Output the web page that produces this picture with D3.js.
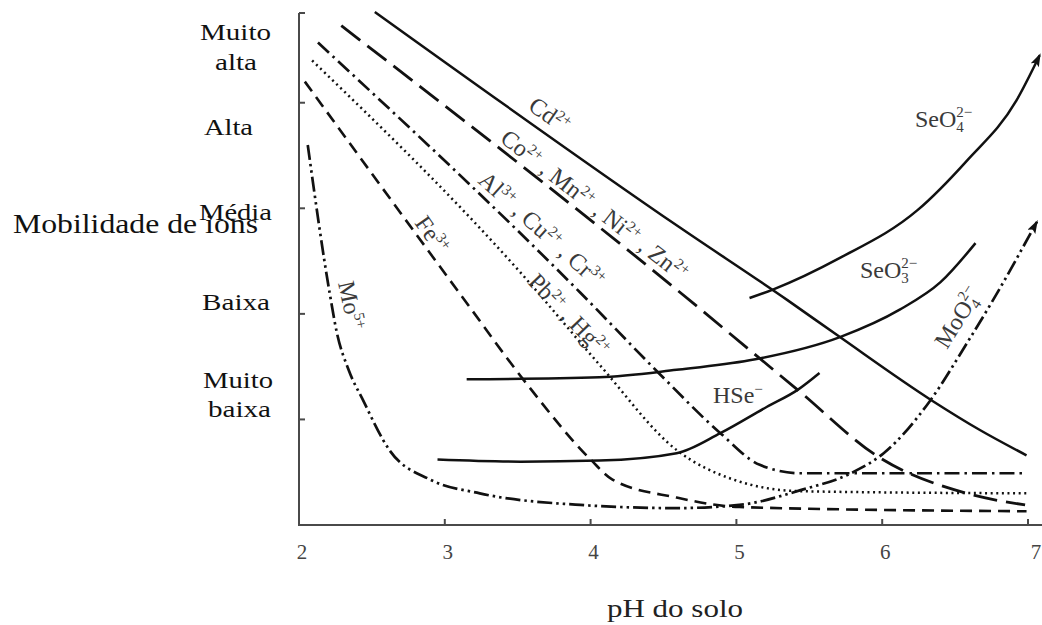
<!DOCTYPE html>
<html>
<head>
<meta charset="utf-8">
<script src="https://cdn.jsdelivr.net/npm/d3@7"></script>
<style>
  html, body { margin: 0; padding: 0; background: #fff; }
  svg { display: block; }
  text { font-family: "Liberation Serif", "Times New Roman", serif; }
</style>
</head>
<body>
<svg id="chart" width="1042" height="625"></svg>
<script>
// Axis values
const phTicks = [2, 3, 4, 5, 6, 7];
const mobilityTicks = [1, 2, 3, 4];
const mobilityLevels = ["Muito", "alta", "Alta", "Média", "Baixa", "Muito", "baixa"];

// Curves as [pH, relative mobility] pairs
const cdCurve   = [[2.52, 4.86], [4.61, 2.82], [5.35, 2.13], [5.71, 1.78], [6.34, 1.18], [6.67, 0.90], [6.99, 0.66]];
const coCurve   = [[2.29, 4.73], [4.59, 2.23], [5.42, 1.28], [5.98, 0.64], [6.58, 0.30], [6.98, 0.19]];
const alCurve   = [[2.13, 4.57], [3.93, 2.20], [4.46, 1.45], [4.89, 0.87], [5.16, 0.57], [5.44, 0.49], [6.99, 0.49]];
const pbCurve   = [[2.09, 4.40], [3.52, 2.39], [4.06, 1.52], [4.59, 0.71], [4.98, 0.43], [5.44, 0.32], [6.99, 0.30]];
const feCurve   = [[2.04, 4.20], [3.12, 2.16], [3.56, 1.34], [4.00, 0.62], [4.15, 0.43], [4.59, 0.26], [5.02, 0.17], [6.99, 0.13]];
const moCurve   = [[2.06, 3.60], [2.21, 2.20], [2.26, 1.82], [2.34, 1.47], [2.44, 1.18], [2.62, 0.71], [2.90, 0.43],
                   [3.24, 0.30], [3.93, 0.19], [4.59, 0.16], [5.02, 0.19], [5.44, 0.33], [5.80, 0.50], [6.01, 0.68],
                   [6.33, 1.18], [6.58, 1.72], [6.76, 2.13], [7.06, 2.87]];
const seo4Curve = [[5.09, 2.15], [5.25, 2.23], [5.71, 2.53], [6.24, 2.98], [6.58, 3.45], [6.92, 4.02], [7.08, 4.45]];
const seo3Curve = [[3.15, 1.38], [4.06, 1.40], [4.59, 1.47], [5.09, 1.56], [5.71, 1.78], [6.12, 2.04], [6.40, 2.30], [6.64, 2.67]];
const hseCurve  = [[2.95, 0.62], [3.52, 0.60], [4.06, 0.61], [4.59, 0.68], [4.89, 0.87], [5.21, 1.12], [5.42, 1.28], [5.57, 1.44]];

const svg = d3.select("#chart");
const x = d3.scaleLinear().domain([2, 7]).range([299, 1028]);
const y = d3.scaleLinear().domain([0, 4.85]).range([525, 13]);

const ink = "#111";

// Arrowhead for curves that keep rising beyond the plot
const defs = svg.append("defs");
defs.append("marker")
  .attr("id", "arrow")
  .attr("viewBox", "0 0 12 8")
  .attr("refX", 10).attr("refY", 4)
  .attr("markerWidth", 15).attr("markerHeight", 9)
  .attr("markerUnits", "userSpaceOnUse")
  .attr("orient", "auto")
  .append("path").attr("d", "M0,0 L12,4 L0,8 L2.5,4 Z").attr("fill", ink);

// Axes
const axisColor = "#4a4a4a";
svg.append("line").attr("x1", x(2)).attr("x2", x(2)).attr("y1", y(4.85)).attr("y2", y(0))
  .attr("stroke", axisColor).attr("stroke-width", 2);
svg.append("line").attr("x1", x(2)).attr("x2", x(2) + 6).attr("y1", y(4.85)).attr("y2", y(4.85))
  .attr("stroke", axisColor).attr("stroke-width", 2);
svg.append("line").attr("x1", x(2) - 1).attr("x2", 1042).attr("y1", y(0)).attr("y2", y(0))
  .attr("stroke", axisColor).attr("stroke-width", 2);

svg.selectAll(".ytick").data(mobilityTicks).join("line")
  .attr("x1", x(2)).attr("x2", x(2) + 6)
  .attr("y1", d => y(d)).attr("y2", d => y(d))
  .attr("stroke", axisColor).attr("stroke-width", 2);

svg.selectAll(".xtick").data(phTicks.slice(1)).join("line")
  .attr("x1", d => x(d)).attr("x2", d => x(d))
  .attr("y1", y(0)).attr("y2", y(0) - 6)
  .attr("stroke", axisColor).attr("stroke-width", 2);

svg.selectAll(".xlabel").data(phTicks).join("text")
  .attr("x", d => x(d) + (d === 7 ? 8 : 3))
  .attr("y", 559)
  .attr("text-anchor", "middle")
  .attr("font-size", 21)
  .attr("fill", "#444")
  .text(d => d);

svg.append("text")
  .attr("x", 607).attr("y", 617)
  .attr("font-size", 25)
  .attr("textLength", 136).attr("lengthAdjust", "spacingAndGlyphs")
  .attr("fill", "#222")
  .text("pH do solo");

// Mobility level labels on the left
const levelLayout = [
  { x: 200, y: 40,  w: 71 },
  { x: 215, y: 70,  w: 42 },
  { x: 204, y: 135, w: 49 },
  { x: 199, y: 220, w: 73 },
  { x: 202, y: 310, w: 68 },
  { x: 203, y: 388, w: 70 },
  { x: 208, y: 417, w: 63 }
];
svg.selectAll(".level").data(mobilityLevels).join("text")
  .attr("x", (d, i) => levelLayout[i].x)
  .attr("y", (d, i) => levelLayout[i].y)
  .attr("textLength", (d, i) => levelLayout[i].w)
  .attr("lengthAdjust", "spacingAndGlyphs")
  .attr("font-size", 23)
  .attr("fill", "#111")
  .text(d => d);

svg.append("text")
  .attr("x", 13).attr("y", 233)
  .attr("textLength", 245).attr("lengthAdjust", "spacingAndGlyphs")
  .attr("font-size", 27)
  .attr("fill", "#111")
  .text("Mobilidade de ions");

// Curves
const series = [
  { pts: cdCurve,   dash: null,                 w: 2.5 },
  { pts: coCurve,   dash: "24,9",               w: 2.8 },
  { pts: alCurve,   dash: "15,5,2.5,5",         w: 2.7 },
  { pts: pbCurve,   dash: "2,3.6",              w: 2.5 },
  { pts: feCurve,   dash: "12,7",               w: 2.6 },
  { pts: moCurve,   dash: "15,4,2.5,4,2.5,4",   w: 2.7, arrow: true },
  { pts: seo4Curve, dash: null,                 w: 2.5, arrow: true },
  { pts: seo3Curve, dash: null,                 w: 2.5 },
  { pts: hseCurve,  dash: null,                 w: 2.5 }
];

const line = d3.line().x(d => x(d[0])).y(d => y(d[1])).curve(d3.curveMonotoneX);

svg.append("g").selectAll("path").data(series).join("path")
  .attr("d", d => line(d.pts))
  .attr("fill", "none")
  .attr("stroke", ink)
  .attr("stroke-width", d => d.w)
  .attr("stroke-dasharray", d => d.dash)
  .attr("marker-end", d => d.arrow ? "url(#arrow)" : null);

// Ion labels: pieces are [text] or [text, "sup"] or [sub, sup, "stack"]
const ionLabels = [
  { parts: [["Cd"], ["2+", "sup"]], x: 527, y: 109, rot: 35 },
  { parts: [["Co"], ["2+", "sup"], [" , Mn"], ["2+", "sup"], [" , Ni"], ["2+", "sup"], [" , Zn"], ["2+", "sup"]], x: 499, y: 141, rot: 38 },
  { parts: [["Al"], ["3+", "sup"], [" , Cu"], ["2+", "sup"], [" , Cr"], ["3+", "sup"]], x: 477, y: 182, rot: 42 },
  { parts: [["Pb"], ["2+", "sup"], [" , Hg"], ["2+", "sup"]], x: 527, y: 283, rot: 46 },
  { parts: [["Fe"], ["3+", "sup"]], x: 414, y: 223, rot: 55 },
  { parts: [["Mo"], ["5+", "sup"]], x: 338, y: 283, rot: 78 },
  { parts: [["MoO"], ["4", "2\u2212", "stack"]], x: 947, y: 350, rot: -58 },
  { parts: [["SeO"], ["4", "2\u2212", "stack"]], x: 915, y: 127, rot: 0 },
  { parts: [["SeO"], ["3", "2\u2212", "stack"]], x: 860, y: 278, rot: 0 },
  { parts: [["HSe"], ["\u2212", "sup"]], x: 713, y: 403, rot: 0 }
];

const fs = 24, small = 15;
ionLabels.forEach(lab => {
  const t = svg.append("text")
    .attr("transform", `translate(${lab.x},${lab.y}) rotate(${lab.rot})`)
    .attr("font-size", fs)
    .attr("fill", "#3a3a3a")
    .style("white-space", "pre");
  let shift = 0;
  lab.parts.forEach(p => {
    const role = p[p.length - 1];
    if (p.length === 1) {
      t.append("tspan").attr("dy", -shift).text(p[0]);
      shift = 0;
    } else if (role === "sup") {
      t.append("tspan").attr("dy", -9 - shift).attr("font-size", small).text(p[0]);
      shift = -9;
    } else if (role === "stack") {
      t.append("tspan").attr("dy", 5 - shift).attr("font-size", small).text(p[0]);
      t.append("tspan").attr("dx", -7.5).attr("dy", -15).attr("font-size", small).text(p[1]);
      shift = -10;
    }
  });
});
</script>
</body>
</html>
